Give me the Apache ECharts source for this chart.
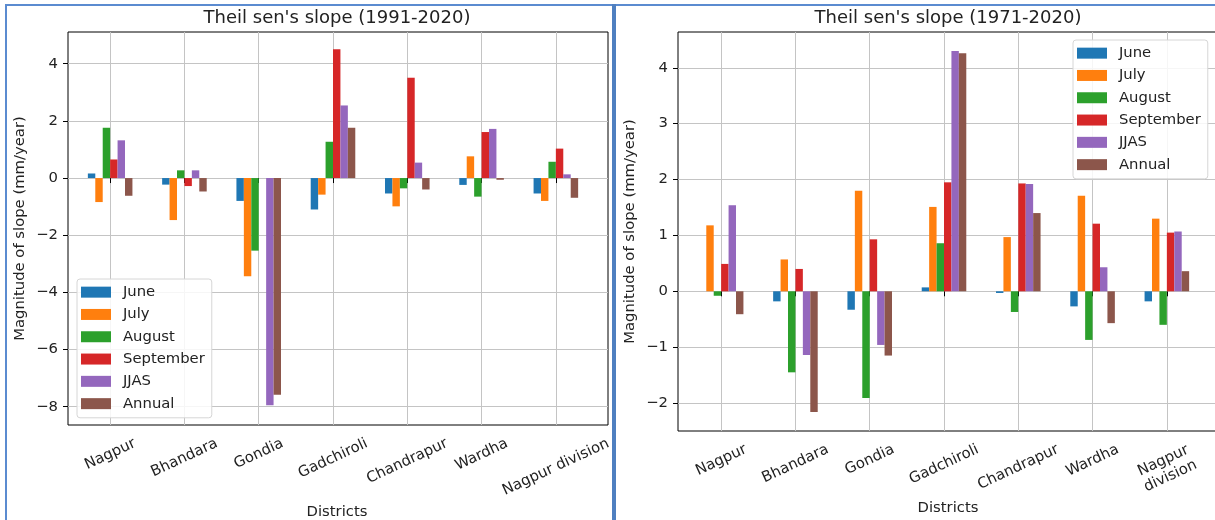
<!DOCTYPE html>
<html><head><meta charset="utf-8">
<script src="https://cdn.jsdelivr.net/npm/echarts@6/dist/echarts.min.js"></script>
<style>html,body{margin:0;padding:0;background:#fff}#c{width:1215px;height:520px}</style>
</head><body><div id="c"></div>
<script>
// ---------- data ----------
const districtsLeft = ['Nagpur','Bhandara','Gondia','Gadchiroli','Chandrapur','Wardha','Nagpur division'];
const districtsRight = ['Nagpur','Bhandara','Gondia','Gadchiroli','Chandrapur','Wardha','Nagpur\ndivision'];
const seriesNames = ['June','July','August','September','JJAS','Annual'];
// Theil sen's slope (1991-2020)
const june9120      = [0.16, -0.23, -0.80, -1.10, -0.54, -0.24, -0.54];
const july9120      = [-0.84, -1.47, -3.44, -0.58, -0.99, 0.76, -0.80];
const august9120    = [1.76, 0.27, -2.54, 1.27, -0.36, -0.65, 0.57];
const september9120 = [0.65, -0.28, 0.00, 4.51, 3.51, 1.61, 1.03];
const jjas9120      = [1.32, 0.27, -7.95, 2.54, 0.54, 1.72, 0.13];
const annual9120    = [-0.62, -0.47, -7.58, 1.76, -0.40, -0.06, -0.69];
// Theil sen's slope (1971-2020)
const june7120      = [0.00, -0.18, -0.33, 0.07, -0.03, -0.27, -0.18];
const july7120      = [1.18, 0.57, 1.80, 1.51, 0.97, 1.71, 1.30];
const august7120    = [-0.08, -1.45, -1.91, 0.86, -0.37, -0.87, -0.60];
const september7120 = [0.49, 0.40, 0.93, 1.95, 1.93, 1.21, 1.05];
const jjas7120      = [1.54, -1.14, -0.96, 4.30, 1.92, 0.43, 1.07];
const annual7120    = [-0.41, -2.16, -1.15, 4.26, 1.40, -0.57, 0.36];
const yTicksLeft  = [-8, -6, -4, -2, 0, 2, 4];
const yTicksRight = [-2, -1, 0, 1, 2, 3, 4];
const titleLeft = "Theil sen's slope (1991-2020)";
const titleRight = "Theil sen's slope (1971-2020)";
const xName = 'Districts';
const yName = 'Magnitude of slope (mm/year)';

// ---------- style ----------
const colors = ['#1f77b4','#ff7f0e','#2ca02c','#d62728','#9467bd','#8c564b'];
const FONT = 'DejaVu Sans';
const FS = 14.8;
const TXT = '#222';
const LH = 17;
const ROT = 25;
const TH = ROT * Math.PI / 180;
const GRIDC = '#c4c4c4';
const ctx = document.createElement('canvas').getContext('2d');
ctx.font = FS + 'px "' + FONT + '"';

// matplotlib-like placement of rotated, centre-aligned tick labels
function catLabel(cats, prefix) {
  const rich = {};
  const base = {fontSize: FS, fontFamily: FONT, color: TXT, lineHeight: LH, align: 'center'};
  cats.forEach((c, i) => {
    const lines = c.split('\n');
    const w = Math.max(...lines.map(l => ctx.measureText(l).width));
    const H = lines.length * LH;
    const d = (w * Math.sin(TH) + H * Math.cos(TH)) / 2;
    const a = d * Math.sin(TH), b = d * Math.cos(TH);
    rich[prefix + i] = Object.assign({}, base, {padding: [2 * b, 2 * a, 0, 0]});
  });
  return {
    show: true, interval: 0, rotate: ROT, align: 'center', verticalAlign: 'middle', margin: 10,
    fontSize: FS, fontFamily: FONT, color: TXT, rich,
    formatter: (val) => {
      const i = cats.indexOf(val);
      return String(val).split('\n').map(l => '{' + prefix + i + '|' + l + '}').join('\n');
    }
  };
}
const minus = v => String(v).replace('-', '\u2212');

function frameY(gi, min, max, ticks) {
  return {
    type: 'value', gridIndex: gi, min, max,
    name: yName, nameLocation: 'middle', nameGap: 40,
    nameTextStyle: {fontSize: FS, fontFamily: FONT, color: TXT},
    axisLine: {show: false},
    axisTick: {show: true, inside: false, length: 5, lineStyle: {color: '#000'}, customValues: ticks},
    axisLabel: {show: true, margin: 10, fontSize: FS, fontFamily: FONT, color: TXT, formatter: minus,
      customValues: ticks},
    splitLine: {show: true, lineStyle: {color: GRIDC, width: 1}}
  };
}
function dataY(gi, min, max) {
  return {type: 'value', gridIndex: gi, min, max, show: false, splitLine: {show: false}};
}
function dataX(gi, cats, prefix, nameGap) {
  return {
    type: 'category', gridIndex: gi, data: cats, boundaryGap: true,
    name: xName, nameLocation: 'middle', nameGap,
    nameTextStyle: {fontSize: FS, fontFamily: FONT, color: TXT, padding: [0, 0, 0, 8]},
    axisLine: {show: false},
    axisTick: {show: true, alignWithLabel: true, length: 5, inside: false, lineStyle: {color: '#000'}},
    axisLabel: catLabel(cats, prefix),
    splitLine: {show: true, alignWithLabel: true, lineStyle: {color: GRIDC, width: 1}}
  };
}
function legend(left, top) {
  return {
    orient: 'vertical', left, top, data: seriesNames,
    icon: 'rect', itemWidth: 30, itemHeight: 11, itemGap: 6,
    padding: [5, 7, 6, 4],
    backgroundColor: 'rgba(255,255,255,0.85)', borderColor: '#d6d6d6', borderWidth: 1, borderRadius: 3,
    textStyle: {fontSize: FS, fontFamily: FONT, color: TXT, lineHeight: 16.3, padding: [0, 0, 0, 7]},
    selectedMode: false
  };
}

const left9120 = [june9120, july9120, august9120, september9120, jjas9120, annual9120];
const right7120 = [june7120, july7120, august7120, september7120, jjas7120, annual7120];
const series = [];
left9120.forEach((arr, k) => series.push({
  name: seriesNames[k], type: 'bar', xAxisIndex: 1, yAxisIndex: 1, data: arr,
  barGap: '0%', barCategoryGap: '40%', itemStyle: {color: colors[k]}
}));
right7120.forEach((arr, k) => series.push({
  name: seriesNames[k], type: 'bar', xAxisIndex: 3, yAxisIndex: 3, data: arr,
  barGap: '0%', barCategoryGap: '40%', itemStyle: {color: colors[k]}
}));

const option = {
  animation: false,
  backgroundColor: '#fff',
  textStyle: {fontFamily: FONT},
  title: [
    {text: titleLeft, left: 337, top: 9, textAlign: 'center', padding: 0,
     textStyle: {fontSize: 18, fontWeight: 'normal', fontFamily: FONT, color: TXT}},
    {text: titleRight, left: 948, top: 9, textAlign: 'center', padding: 0,
     textStyle: {fontSize: 18, fontWeight: 'normal', fontFamily: FONT, color: TXT}}
  ],
  legend: [legend(77, 279), legend(1073, 40)],
  grid: [
    {left: 68, top: 32, width: 540, height: 393, show: true, borderColor: '#000', borderWidth: 1, backgroundColor: 'transparent', outerBoundsMode: 'none', containLabel: false},
    {left: 73, top: 32, width: 520, height: 393, outerBoundsMode: 'none', containLabel: false},
    {left: 678, top: 32, width: 540, height: 399, show: true, borderColor: '#000', borderWidth: 1, backgroundColor: 'transparent', outerBoundsMode: 'none', containLabel: false},
    {left: 684, top: 32, width: 520, height: 399, outerBoundsMode: 'none', containLabel: false}
  ],
  xAxis: [
    {type: 'value', gridIndex: 0, show: false, splitLine: {show: false}},
    dataX(1, districtsLeft, 'L', 78),
    {type: 'value', gridIndex: 2, show: false, splitLine: {show: false}},
    dataX(3, districtsRight, 'R', 69)
  ],
  yAxis: [
    frameY(0, -8.64, 5.11, yTicksLeft),
    dataY(1, -8.64, 5.11),
    frameY(2, -2.50, 4.64, yTicksRight),
    dataY(3, -2.50, 4.64)
  ],
  series,
  graphic: [
    {type: 'rect', shape: {x: 5, y: 4, width: 2, height: 520}, style: {fill: '#5b8bd0'}, z: 100},
    {type: 'rect', shape: {x: 5, y: 4, width: 1215, height: 2}, style: {fill: '#5b8bd0'}, z: 100},
    {type: 'rect', shape: {x: 612, y: 4, width: 4, height: 520}, style: {fill: '#4f7fc0'}, z: 100}
  ]
};
const chart = echarts.init(document.getElementById('c'), null, {renderer: 'canvas'});
chart.setOption(option);
</script></body></html>
